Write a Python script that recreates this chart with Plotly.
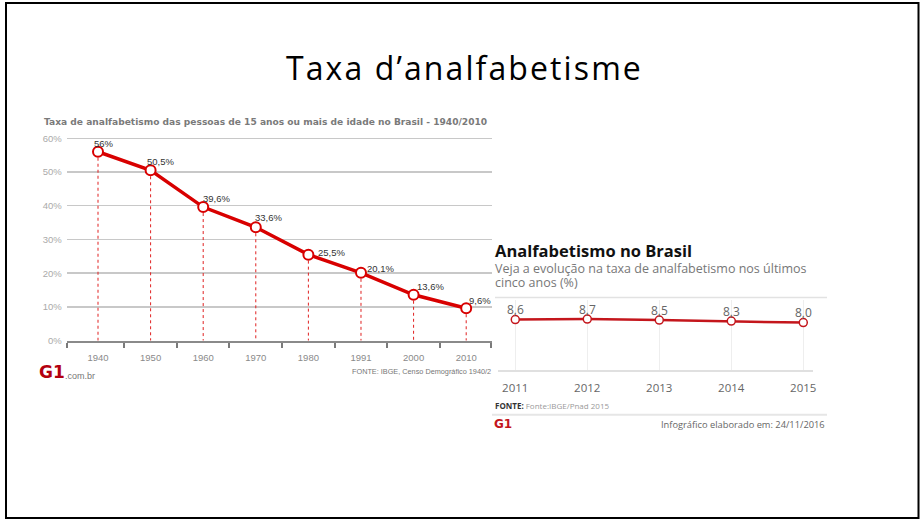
import plotly.graph_objects as go

# positions below are in reference-image pixels (921 x 520); the figure is
# laid out in fractions of that frame.
REF_W, REF_H = 921, 520
W, H = 924, 526


def px(x):
    return x / REF_W


def py(y):
    return 1 - y / REF_H


# ---------------- data ----------------
census_years = ["1940", "1950", "1960", "1970", "1980", "1991", "2000", "2010"]
census_rates = [56, 50.5, 39.6, 33.6, 25.5, 20.1, 13.6, 9.6]
census_labels = ["56%", "50,5%", "39,6%", "33,6%", "25,5%", "20,1%", "13,6%", "9,6%"]
census_yticks = [0, 10, 20, 30, 40, 50, 60]
census_ytick_labels = ["0%", "10%", "20%", "30%", "40%", "50%", "60%"]

pnad_years = ["2011", "2012", "2013", "2014", "2015"]
pnad_rates = [8.6, 8.7, 8.5, 8.3, 8.0]
pnad_labels = ["8,6", "8,7", "8,5", "8,3", "8,0"]

# label placement (style only)
census_label_dx = [-6, -6, -2, -3, 8, 4, 1, 1]
census_label_dy = [8, 9, 8.5, 9.5, 2.5, 4, 8.5, 7.7]

RED = "#d80000"
DARKRED = "#c4161c"
ARIAL = "Liberation Sans"
OPEN = "Open Sans"

cx = list(range(len(census_years)))
rx = list(range(len(pnad_years)))

fig = go.Figure()

# drop lines (dotted red) from each census point to the axis
dx, dy = [], []
for i, v in zip(cx, census_rates):
    dx += [i, i, None]
    dy += [v, 0, None]
fig.add_trace(go.Scatter(x=dx, y=dy, mode="lines",
                         line=dict(color="#e02020", width=1, dash="dot"),
                         hoverinfo="skip", showlegend=False, xaxis="x", yaxis="y"))

fig.add_trace(go.Scatter(x=cx, y=census_rates, mode="lines+markers",
                         line=dict(color=RED, width=3.5),
                         marker=dict(size=10, color="white", line=dict(color=RED, width=2)),
                         showlegend=False, xaxis="x", yaxis="y"))

fig.add_trace(go.Scatter(x=rx, y=pnad_rates, mode="lines+markers",
                         line=dict(color=DARKRED, width=2.5),
                         marker=dict(size=8, color="white", line=dict(color=DARKRED, width=1.5)),
                         showlegend=False, xaxis="x2", yaxis="y2"))

annotations = []
# census value labels
for i, (v, t) in enumerate(zip(census_rates, census_labels)):
    annotations.append(dict(x=i, y=v, xref="x", yref="y", text=t, showarrow=False,
                            xanchor="left", yanchor="middle",
                            xshift=census_label_dx[i], yshift=census_label_dy[i],
                            font=dict(family=ARIAL, size=9.5, color="#333333")))
# pnad value labels
for i, (v, t) in enumerate(zip(pnad_rates, pnad_labels)):
    annotations.append(dict(x=i, y=v, xref="x2", yref="y2", text=t, showarrow=False,
                            xanchor="center", yanchor="middle", yshift=10,
                            font=dict(family=OPEN, size=12, color="#666666")))


def txt(x, y, text, size, color, family, anchor="left", bold=False):
    return dict(x=px(x), y=py(y), xref="paper", yref="paper", text=text,
                showarrow=False, xanchor=anchor, yanchor="middle",
                font=dict(family=family, size=size, color=color,
                          weight="bold" if bold else "normal"))


annotations += [
    txt(464, 67, "<span style='letter-spacing:2.1px'>Taxa d’analfabetisme</span>",
        32, "#000000", "Open Sans", "center"),
    txt(41.5, 121.5, "Taxa de analfabetismo das pessoas de 15 anos ou mais de idade no Brasil - 1940/2010",
        9.1, "#7a7a7a", "DejaVu Sans", bold=True),
    txt(37, 371, "G1", 17, "#b3000f", "DejaVu Sans", bold=True),
    txt(63, 375, ".com.br", 9, "#777777", ARIAL),
    txt(493, 371, "FONTE: IBGE, Censo Demográfico 1940/2", 7.3, "#777777", ARIAL, "right"),
    txt(493, 250.5, "Analfabetismo no Brasil", 16.5, "#111111", OPEN, bold=True),
    txt(493, 268.3, "Veja a evolução na taxa de analfabetismo nos últimos", 12.5, "#777777", OPEN),
    txt(493, 282, "cinco anos (%)", 12.5, "#777777", OPEN),
    txt(492.5, 405, "<b>FONTE:</b> <span style='color:#9a9a9a'>Fonte:IBGE/Pnad 2015</span>",
        8, "#333333", OPEN),
    txt(492, 423, "G1", 12, DARKRED, "DejaVu Sans", bold=True),
    txt(826.5, 424, "Infográfico elaborado em: 24/11/2016", 9.3, "#666666", OPEN, "right"),
]

shapes = [
    # slide border
    dict(type="rect", xref="paper", yref="paper", x0=px(6), x1=px(918.5), y0=py(517), y1=py(3),
         line=dict(color="#000000", width=2), fillcolor="rgba(0,0,0,0)"),
    # right chart top rule
    dict(type="line", xref="paper", yref="paper", x0=px(495), x1=px(827), y0=py(297), y1=py(297),
         line=dict(color="#e2e2e2", width=1.5)),
    # right chart footer separator
    dict(type="line", xref="paper", yref="paper", x0=px(492), x1=px(827), y0=py(414), y1=py(414),
         line=dict(color="#e6e6e6", width=2)),
]

fig.update_layout(
    width=W, height=H,
    margin=dict(l=0, r=0, t=0, b=0),
    paper_bgcolor="white", plot_bgcolor="rgba(0,0,0,0)",
    showlegend=False,
    annotations=annotations,
    shapes=shapes,
    xaxis=dict(domain=[px(66.7), px(491.7)], range=[-0.595, 7.485],
               tickmode="array", tickvals=cx, ticktext=census_years, ticks="",
               showgrid=False, zeroline=False, showline=True, linecolor="#8a8a8a", linewidth=2,
               tickfont=dict(family=ARIAL, size=9.5, color="#8a8a8a"), ticklabelstandoff=7,
               minor=dict(tickmode="array",
                          tickvals=[-0.59, 0.5, 1.5, 2.5, 3.5, 4.5, 5.5, 6.5, 7.48],
                          ticks="outside", ticklen=5, tickwidth=2, tickcolor="#7a7a7a",
                          showgrid=False),
               anchor="y", fixedrange=True),
    yaxis=dict(domain=[py(340), py(131.25)], range=[0, 62],
               tickmode="array", tickvals=census_yticks, ticktext=census_ytick_labels,
               showgrid=True, gridcolor="#c8c8c8", gridwidth=1.5,
               zeroline=False, showline=False, ticks="",
               tickfont=dict(family=ARIAL, size=9.5, color="#aaaaaa"), ticklabelstandoff=4,
               anchor="x", fixedrange=True),
    xaxis2=dict(domain=[px(498), px(813)], range=[-0.24, 4.135],
                tickmode="array", tickvals=rx, ticktext=pnad_years, ticks="",
                showgrid=True, gridcolor="#eeeeee", gridwidth=1,
                zeroline=False, showline=True, linecolor="#e0e0e0", linewidth=2,
                tickfont=dict(family=OPEN, size=11.5, color="#666666"), ticklabelstandoff=6,
                anchor="y2", fixedrange=True),
    yaxis2=dict(domain=[py(369), py(299)], range=[-1.4, 12.6],
                visible=False, showgrid=False, zeroline=False,
                anchor="x2", fixedrange=True),
)

page_fix = (
    "var d=document.documentElement, b=document.body;"
    "d.style.margin='0'; d.style.padding='0'; d.style.overflow='hidden';"
    "b.style.margin='0'; b.style.padding='0'; b.style.overflow='hidden';"
    "b.style.fontSize='0'; b.style.lineHeight='0';"
    "document.querySelectorAll('.svg-container').forEach(function(e){"
    "e.style.display='block';});"
)

fig.write_html("out.html", config={"displayModeBar": False, "staticPlot": True},
               post_script=page_fix)
